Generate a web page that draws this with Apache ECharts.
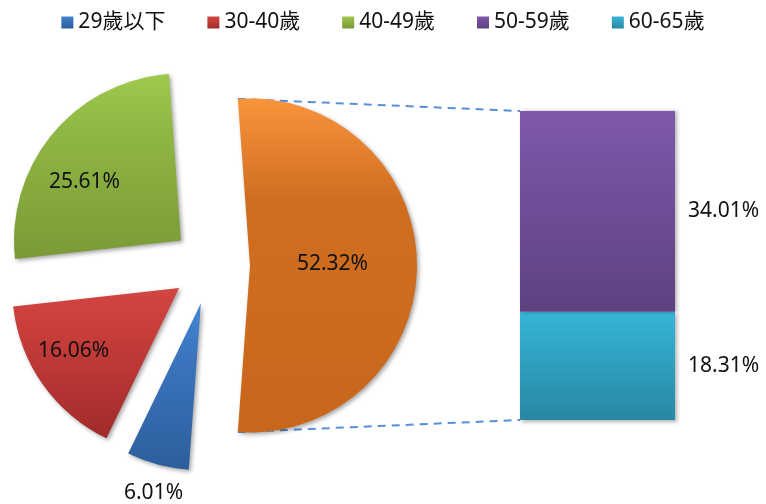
<!DOCTYPE html>
<html>
<head>
<meta charset="utf-8">
<script src="https://cdn.jsdelivr.net/npm/echarts@6/dist/echarts.min.js"></script>
<style>
html, body { margin: 0; padding: 0; background: #fff; }
#chart { width: 766px; height: 504px; }
</style>
</head>
<body>
<div id="chart"></div>
<script>
// pie part (percent of all)
var pieNames = ['29歲以下', '30-40歲', '40-49歲'];
var pieValues = [6.01, 16.06, 25.61];
// split bar part (percent of all)
var barNames = ['60-65歲', '50-59歲'];
var barValues = [18.31, 34.01];
var legendNames = ['29歲以下', '30-40歲', '40-49歲', '50-59歲', '60-65歲'];

var otherValue = +(barValues[0] + barValues[1]).toFixed(2);

var FONT = "'Noto Sans', 'Noto Sans CJK TC', sans-serif";
var pieCenter = [211, 265.5];
var pieRadius = 167;
var explode = 39;
var grid = { left: 520, top: 111, width: 155, height: 309 };

function grad(top, mid, bottom) {
    return new echarts.graphic.LinearGradient(0, 0, 0, 1, [
        { offset: 0, color: top },
        { offset: 0.3, color: mid },
        { offset: 1, color: bottom }
    ]);
}
var pieColors = [
    grad('#4485d2', '#3b76bf', '#2d5e9c'),
    grad('#d24642', '#c73d3a', '#a02c2b'),
    grad('#9fc94c', '#90b744', '#7b9a37')
];
var otherColor = grad('#fa943c', '#d06e20', '#c8661c');
var barColors = [grad('#37b5d8', '#32a7c8', '#2788a3'), grad('#7e59a9', '#74529e', '#5d4180')];

// label nudges (from the default inside spot) for other, 29, 30-40, 40-49
var labelShift = [[-4, -1], [-25, 106], [-35, 13], [-30, -3]];

var chart = echarts.init(document.getElementById('chart'));

var pieData = [{ name: '其他', value: otherValue, selected: true, itemStyle: { color: otherColor } }];
for (var i = 0; i < pieNames.length; i++) {
    pieData.push({ name: pieNames[i], value: pieValues[i], selected: true, itemStyle: { color: pieColors[i] } });
}

var half = otherValue / 100 * 180;
var rad = half * Math.PI / 180;
var ox = pieCenter[0] + explode + pieRadius * Math.cos(rad);
var oyTop = pieCenter[1] - pieRadius * Math.sin(rad);
var oyBot = pieCenter[1] + pieRadius * Math.sin(rad);
var dashStyle = { stroke: '#5b8ed8', lineWidth: 2, lineDash: [8, 6] };

var option = {
    animation: false,
    textStyle: { fontFamily: FONT },
    legend: {
        data: legendNames,
        top: 7,
        left: 'center',
        icon: 'rect',
        itemWidth: 12,
        itemHeight: 12,
        itemGap: 42,
        selectedMode: false,
        textStyle: { fontSize: 21, color: '#111', fontFamily: FONT }
    },
    grid: grid,
    xAxis: { type: 'category', data: [''], show: false },
    yAxis: { type: 'value', min: 0, max: otherValue, show: false },
    graphic: [
        { type: 'line', z: 0, shape: { x1: ox, y1: oyTop, x2: grid.left, y2: grid.top }, style: dashStyle, silent: true },
        { type: 'line', z: 0, shape: { x1: ox, y1: oyBot, x2: grid.left, y2: grid.top + grid.height }, style: dashStyle, silent: true }
    ],
    series: [
        {
            type: 'pie',
            z: 3,
            center: pieCenter,
            radius: pieRadius,
            startAngle: half,
            clockwise: true,
            selectedMode: 'multiple',
            selectedOffset: explode,
            emphasis: { disabled: true },
            select: { itemStyle: { shadowBlur: 4, shadowColor: 'rgba(0,0,0,0.35)', shadowOffsetX: 2, shadowOffsetY: 2 } },
            itemStyle: { shadowBlur: 4, shadowColor: 'rgba(0,0,0,0.35)', shadowOffsetX: 2, shadowOffsetY: 2 },
            label: {
                position: 'inside',
                fontSize: 21,
                color: '#111',
                fontFamily: FONT,
                formatter: function (p) { return p.value.toFixed(2) + '%'; }
            },
            labelLine: { show: false },
            labelLayout: function (p) {
                var s = labelShift[p.dataIndex];
                return { dx: s[0], dy: s[1] };
            },
            data: pieData
        },
        {
            type: 'bar',
            name: barNames[0],
            stack: 'split',
            barWidth: '100%',
            data: [barValues[0]],
            itemStyle: { color: barColors[0], shadowBlur: 4, shadowColor: 'rgba(0,0,0,0.3)', shadowOffsetX: 2, shadowOffsetY: 2 },
            label: { show: true, position: 'right', distance: 13, fontSize: 21, color: '#111', fontFamily: FONT, formatter: '{c}%' }
        },
        {
            type: 'bar',
            name: barNames[1],
            stack: 'split',
            barWidth: '100%',
            data: [barValues[1]],
            itemStyle: { color: barColors[1], shadowBlur: 4, shadowColor: 'rgba(0,0,0,0.3)', shadowOffsetX: 2, shadowOffsetY: 0 },
            label: { show: true, position: 'right', distance: 13, fontSize: 21, color: '#111', fontFamily: FONT, formatter: '{c}%' }
        }
    ]
};
chart.setOption(option);
</script>
</body>
</html>
